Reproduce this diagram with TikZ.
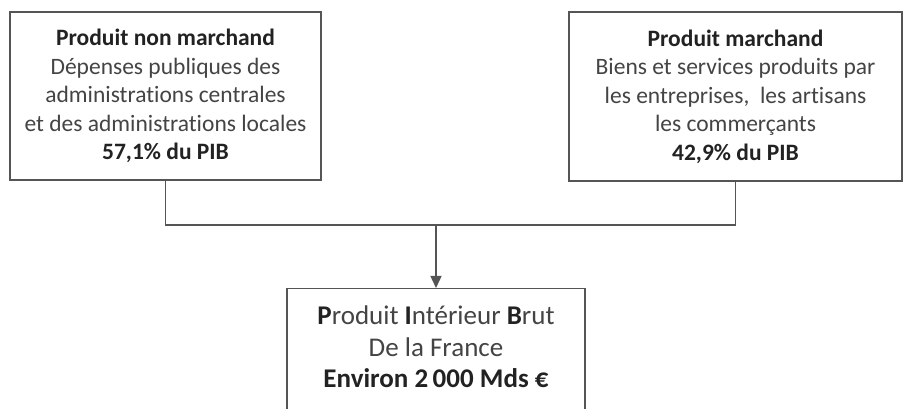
\documentclass[tikz,border=0pt]{standalone}
\usepackage{fontspec}
\setmainfont[Ligatures={NoCommon}]{Carlito}
\usetikzlibrary{arrows.meta}
\definecolor{linegray}{HTML}{555555}
\definecolor{txtgray}{HTML}{444444}
\definecolor{txtdark}{HTML}{222222}
\begin{document}
\begin{tikzpicture}[x=1pt,y=1pt,
  box/.style={draw=linegray,line width=1.4pt,fill=white,rectangle,inner sep=0pt},
  txt/.style={align=center,text=txtgray,font=\fontsize{23.5}{28.5}\selectfont,inner sep=0pt},
  conn/.style={draw=linegray,line width=1.4pt}]
\useasboundingbox (0,0) rectangle (904,409);
\begin{scope}
\clip (0,0) rectangle (904,409);
\node[box,minimum width=311pt,minimum height=168pt] (left) at (165.5,313) {};
\node[box,minimum width=333pt,minimum height=169pt] (right) at (735.5,312.5) {};
\node[box,minimum width=298pt,minimum height=140pt,anchor=north] (pib) at (436,121) {};
\end{scope}
\node[txt] (lefttext) at (left.center) {\textbf{\color{txtdark}Produit non marchand}\\Dépenses publiques des\\administrations centrales\\et des administrations locales\\\textbf{\color{txtdark}57,1\% du PIB}};
\node[txt] (righttext) at (right.center) {\textbf{\color{txtdark}Produit marchand}\\Biens et services produits par\\les entreprises,\ \ les artisans\\les commerçants\\\textbf{\color{txtdark}42,9\% du PIB}};
\node[txt,font=\fontsize{27}{31.5}\selectfont] (pibtext) at (436,62) {{\color{txtdark}\textbf{P}}roduit {\color{txtdark}\textbf{I}}ntérieur {\color{txtdark}\textbf{B}}rut\\De la France\\\textbf{\color{txtdark}Environ 2\,000 Mds €}};
\coordinate (j) at (436,184);
\draw[conn] (left.south) |- (j) -| (right.south);
\draw[conn,-{Triangle[length=12pt,width=11pt]}] (j) -- (pib.north);
\end{tikzpicture}
\end{document}
